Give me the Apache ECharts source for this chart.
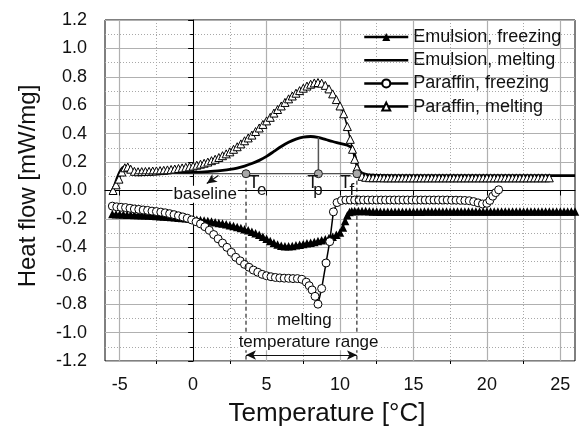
<!DOCTYPE html>
<html><head><meta charset="utf-8">
<script src="https://cdn.jsdelivr.net/npm/echarts@6/dist/echarts.min.js"></script>
<style>html,body{margin:0;padding:0;background:#fff}#c{width:582px;height:432px}</style>
</head><body><div id="c"></div><script>
const FONT = '"Liberation Sans", Arial, sans-serif';
const xTicks = [-5, 0, 5, 10, 15, 20, 25];
const xMinorTicks = [-2.5, 2.5, 7.5, 12.5, 17.5, 22.5];
const legendNames = ['Emulsion, freezing', 'Emulsion, melting', 'Paraffin, freezing', 'Paraffin, melting'];

const emulsionFreezing = [
[-5.5,-0.165],[-5.25,-0.167],[-5.0,-0.168],[-4.75,-0.169],[-4.5,-0.170],[-4.25,-0.171],[-4.0,-0.172],[-3.75,-0.173],
[-3.5,-0.174],[-3.25,-0.175],[-3.0,-0.176],[-2.75,-0.177],[-2.5,-0.179],[-2.25,-0.181],[-2.0,-0.183],[-1.75,-0.185],
[-1.5,-0.187],[-1.25,-0.189],[-1.0,-0.191],[-0.75,-0.193],[-0.5,-0.196],[-0.25,-0.199],[0,-0.202],[0.25,-0.205],
[0.5,-0.208],[0.75,-0.211],[1.0,-0.215],[1.25,-0.219],[1.5,-0.223],[1.75,-0.228],[2.0,-0.233],[2.25,-0.238],
[2.5,-0.244],[2.75,-0.250],[3.0,-0.257],[3.25,-0.264],[3.5,-0.272],[3.75,-0.280],[4.0,-0.290],[4.25,-0.300],
[4.5,-0.312],[4.75,-0.326],[5.0,-0.340],[5.25,-0.355],[5.5,-0.368],[5.75,-0.380],[6.0,-0.388],[6.25,-0.392],
[6.5,-0.392],[6.75,-0.390],[7.0,-0.386],[7.25,-0.382],[7.5,-0.377],[7.75,-0.372],[8.0,-0.367],[8.25,-0.362],
[8.5,-0.356],[8.75,-0.350],[9.0,-0.343],[9.25,-0.335],[9.5,-0.325],[9.75,-0.312],[10.0,-0.295],[10.2,-0.260],
[10.35,-0.215],[10.5,-0.175],[10.65,-0.152],[10.8,-0.146],
[11.0,-0.145],[11.25,-0.145],[11.5,-0.145],[11.75,-0.145],[12.0,-0.146],[12.25,-0.147],[12.5,-0.148],[12.75,-0.149],
[13.0,-0.150],[13.25,-0.150],[13.5,-0.150],[13.75,-0.150],[14.0,-0.150],[14.25,-0.150],[14.5,-0.150],[14.75,-0.150],
[15.0,-0.150],[15.25,-0.149],[15.5,-0.149],[15.75,-0.148],[16.0,-0.148],[16.25,-0.147],[16.5,-0.147],[16.75,-0.147],
[17.0,-0.147],[17.25,-0.147],[17.5,-0.147],[17.75,-0.147],[18.0,-0.147],[18.25,-0.147],[18.5,-0.147],[18.75,-0.147],
[19.0,-0.147],[19.25,-0.147],[19.5,-0.147],[19.75,-0.147],[20.0,-0.147],[20.25,-0.147],[20.5,-0.147],[20.75,-0.147],
[21.0,-0.147],[21.25,-0.147],[21.5,-0.147],[21.75,-0.147],[22.0,-0.147],[22.25,-0.147],[22.5,-0.147],[22.75,-0.147],
[23.0,-0.147],[23.25,-0.147],[23.5,-0.147],[23.75,-0.147],[24.0,-0.147],[24.25,-0.147],[24.5,-0.147],[24.75,-0.147],
[25.0,-0.147],[25.25,-0.147],[25.5,-0.147],[25.75,-0.147],[26.0,-0.147]
];

const emulsionMelting = [
[-5.4,0.02],[-5.2,0.08],[-5.0,0.13],[-4.8,0.16],[-4.6,0.17],[-4.4,0.16],[-4.2,0.14],[-4.0,0.13],[-3.5,0.127],
[-3.0,0.125],[-2.0,0.125],[-1.0,0.126],[0.0,0.128],[1.0,0.133],[2.0,0.142],[2.5,0.148],[3.0,0.158],[3.5,0.172],
[4.0,0.19],[4.5,0.212],[5.0,0.24],[5.5,0.275],[6.0,0.31],[6.5,0.34],[7.0,0.362],[7.5,0.376],[8.0,0.38],[8.5,0.374],
[9.0,0.36],[9.5,0.345],[10.0,0.332],[10.5,0.318],[10.8,0.30],[11.0,0.25],[11.2,0.17],[11.4,0.13],[11.7,0.115],
[12.2,0.108],[14.0,0.105],[18.0,0.104],[22.0,0.104],[26.0,0.105]
];

const paraffinFreezing = [
[-5.5,-0.110],[-5.2,-0.115],[-4.9,-0.118],[-4.6,-0.120],[-4.3,-0.125],[-4.0,-0.130],[-3.7,-0.133],[-3.4,-0.137],
[-3.1,-0.140],[-2.8,-0.145],[-2.5,-0.148],[-2.2,-0.152],[-1.9,-0.157],[-1.6,-0.163],[-1.3,-0.170],[-1.0,-0.178],
[-0.7,-0.186],[-0.4,-0.195],[-0.1,-0.207],[0.2,-0.220],[0.5,-0.235],[0.8,-0.255],[1.1,-0.280],[1.4,-0.310],
[1.7,-0.340],[2.0,-0.370],[2.3,-0.400],[2.6,-0.435],[2.9,-0.470],[3.2,-0.495],[3.5,-0.520],[3.8,-0.540],
[4.1,-0.560],[4.4,-0.575],[4.7,-0.590],[5.0,-0.600],[5.3,-0.607],[5.6,-0.612],[5.9,-0.615],[6.2,-0.617],
[6.5,-0.618],[6.8,-0.620],[7.1,-0.620],[7.4,-0.625],[7.7,-0.645],[7.9,-0.670],[8.1,-0.700],[8.3,-0.745],
[8.5,-0.800],[8.75,-0.690],[9.05,-0.510],[9.3,-0.360],[9.55,-0.150],[9.8,-0.085],[10.1,-0.070],
[10.4,-0.067],[10.7,-0.067],[11.0,-0.067],[11.3,-0.067],[11.6,-0.067],[11.9,-0.067],[12.2,-0.067],[12.5,-0.067],
[12.8,-0.067],[13.1,-0.067],[13.4,-0.067],[13.7,-0.067],[14.0,-0.067],[14.3,-0.067],[14.6,-0.067],[14.9,-0.067],
[15.2,-0.067],[15.5,-0.067],[15.8,-0.067],[16.1,-0.067],[16.4,-0.067],[16.7,-0.067],[17.0,-0.067],[17.3,-0.067],
[17.6,-0.068],[17.9,-0.068],[18.2,-0.069],[18.5,-0.070],[18.8,-0.072],[19.1,-0.078],[19.4,-0.087],[19.7,-0.095],
[20.0,-0.090],[20.2,-0.070],[20.4,-0.040],[20.6,-0.015],[20.8,0.005]
];

const paraffinMelting = [
[-5.45,0.0],[-5.25,0.04],[-5.05,0.08],[-4.85,0.13],[-4.65,0.16],[-4.45,0.165],[-4.25,0.15],[-4.0,0.135],
[-3.75,0.132],[-3.5,0.133],[-3.25,0.134],[-3.0,0.135],[-2.75,0.137],[-2.5,0.138],[-2.25,0.140],[-2.0,0.142],
[-1.75,0.145],[-1.5,0.148],[-1.25,0.151],[-1.0,0.155],[-0.75,0.159],[-0.5,0.163],[-0.25,0.167],[0.0,0.172],
[0.25,0.178],[0.5,0.185],[0.75,0.192],[1.0,0.200],[1.25,0.210],[1.5,0.220],[1.75,0.232],[2.0,0.245],
[2.25,0.258],[2.5,0.272],[2.75,0.290],[3.0,0.308],[3.25,0.328],[3.5,0.350],[3.75,0.370],[4.0,0.390],
[4.25,0.415],[4.5,0.440],[4.75,0.465],[5.0,0.490],[5.25,0.515],[5.5,0.545],[5.75,0.570],[6.0,0.595],
[6.25,0.620],[6.5,0.645],[6.75,0.665],[7.0,0.685],[7.25,0.703],[7.5,0.720],[7.75,0.735],[8.0,0.748],
[8.25,0.757],[8.5,0.760],[8.75,0.755],[9.0,0.740],[9.25,0.715],[9.5,0.680],[9.75,0.640],[10.0,0.595],
[10.25,0.540],[10.5,0.450],[10.7,0.360],[10.85,0.290],[11.0,0.220],[11.15,0.160],[11.3,0.120],[11.5,0.100],
[11.75,0.093],[12.0,0.090],[12.25,0.090],[12.5,0.090],[12.75,0.090],[13.0,0.089],[13.25,0.089],[13.5,0.089],
[13.75,0.089],[14.0,0.089],[14.25,0.089],[14.5,0.089],[14.75,0.089],[15.0,0.089],[15.25,0.089],[15.5,0.089],
[15.75,0.089],[16.0,0.089],[16.25,0.089],[16.5,0.089],[16.75,0.089],[17.0,0.089],[17.25,0.089],[17.5,0.089],
[17.75,0.089],[18.0,0.089],[18.25,0.089],[18.5,0.089],[18.75,0.089],[19.0,0.089],[19.25,0.089],[19.5,0.089],
[19.75,0.089],[20.0,0.089],[20.25,0.089],[20.5,0.089],[20.75,0.089],[21.0,0.089],[21.25,0.089],[21.5,0.089],
[21.75,0.089],[22.0,0.089],[22.25,0.089],[22.5,0.089],[22.75,0.089],[23.0,0.089],[23.25,0.089],[23.5,0.089],
[23.75,0.089],[24.0,0.089],[24.25,0.089]
];

// characteristic temperatures
const Te = 3.6, Tp = 8.53, Tf = 11.15;
const baselineLevel = 0.118;
const baselineStart = -4.0;
const peakAtTp = 0.375;
const rangeBottom = -1.19;
const arrowLevel = -1.158;

const chart = echarts.init(document.getElementById('c'), null, {renderer: 'canvas'});

const txt = (name, x, y, size, bg) => ({name, value: [x, y], label: {fontSize: size, backgroundColor: bg ? '#fff' : 'transparent'}});

const option = {
  animation: false,
  textStyle: {fontFamily: FONT},
  grid: {left: 105, right: 7, top: 20, bottom: 66, show: true, borderColor: '#000', borderWidth: 1, backgroundColor: 'transparent'},
  legend: {
    data: [
      {name: legendNames[0]},
      {name: legendNames[1], itemStyle: {color: 'rgba(0,0,0,0)', borderWidth: 0, opacity: 0}},
      {name: legendNames[2]},
      {name: legendNames[3]}
    ],
    orient: 'vertical', left: 358, top: 22,
    itemWidth: 44, itemHeight: 10, itemGap: 3.2,
    lineStyle: {width: 2.5},
    textStyle: {fontFamily: FONT, fontSize: 18, color: '#111', lineHeight: 20},
    inactiveColor: '#222', selectedMode: false
  },
  xAxis: [{
    type: 'value', min: -6, max: 26,
    axisLine: {show: true, lineStyle: {color: '#000', width: 1}},
    axisTick: {show: true, customValues: xTicks, length: 5, lineStyle: {color: '#000'}},
    axisLabel: {customValues: xTicks, fontSize: 18, color: '#111', margin: 15, fontFamily: FONT},
    splitLine: {show: true, lineStyle: {color: '#b0b0b0', width: 1.2}},
    name: 'Temperature [°C]', nameLocation: 'middle', nameGap: 40,
    nameTextStyle: {fontSize: 26, color: '#111', fontFamily: FONT, padding: [0, 26, 0, 0]}
  }, {
    type: 'value', min: -6, max: 26, position: 'bottom',
    axisLine: {show: false},
    axisTick: {show: true, customValues: xMinorTicks, length: 3, lineStyle: {color: '#000'}},
    axisLabel: {show: false, customValues: xMinorTicks},
    splitLine: {show: true, lineStyle: {color: '#a8a8a8', width: 1, type: [1, 2]}}
  }],
  yAxis: {
    type: 'value', min: -1.2, max: 1.2, interval: 0.2,
    axisLine: {show: true, lineStyle: {color: '#000', width: 1}},
    axisTick: {show: true, length: 5, lineStyle: {color: '#000'}},
    minorTick: {show: true, splitNumber: 2, length: 3, lineStyle: {color: '#000'}},
    axisLabel: {fontSize: 18, color: '#111', margin: 18, fontFamily: FONT,
      formatter: v => Math.abs(v) < 1e-9 ? '0.0' : v.toFixed(1)},
    splitLine: {show: true, lineStyle: {color: '#b0b0b0', width: 1.2}},
    minorSplitLine: {show: true, lineStyle: {color: '#a8a8a8', width: 1, type: [1, 2]}},
    name: 'Heat flow [mW/mg]', nameLocation: 'middle', nameGap: 65,
    nameTextStyle: {fontSize: 24, color: '#111', fontFamily: FONT, padding: [0, 0, 0, 9]}
  },
  series: [
    {
      name: 'Emulsion, melting', type: 'line', data: emulsionMelting, symbol: 'none', smooth: 0.3,
      lineStyle: {color: '#000', width: 2.8}, itemStyle: {color: '#000'}, z: 2
    },
    {
      name: 'Emulsion, freezing', type: 'line', data: emulsionFreezing, symbol: 'triangle', symbolSize: 8.5,
      showAllSymbol: true, lineStyle: {color: '#000', width: 1.5}, itemStyle: {color: '#000'}, z: 3
    },
    {
      name: 'Paraffin, freezing', type: 'line', data: paraffinFreezing, symbol: 'circle', symbolSize: 8,
      showAllSymbol: true, lineStyle: {color: '#000', width: 1.5},
      itemStyle: {color: '#fff', borderColor: '#000', borderWidth: 1}, z: 4
    },
    {
      name: 'Paraffin, melting', type: 'line', data: paraffinMelting, symbol: 'triangle', symbolSize: 8,
      showAllSymbol: true, lineStyle: {color: '#000', width: 1.5},
      itemStyle: {color: '#fff', borderColor: '#000', borderWidth: 1}, z: 5
    },
    {
      name: 'baseline', type: 'line', data: [[baselineStart, baselineLevel], [Tf, baselineLevel]], symbol: 'none',
      lineStyle: {color: '#222', width: 1}, z: 6, silent: true,
      markLine: {
        silent: true, animation: false, label: {show: false},
        lineStyle: {color: '#111', width: 1.2, type: 'solid'}, symbolSize: [7, 10],
        data: [
          [{coord: [Te, arrowLevel], symbol: 'arrow'}, {coord: [Tf, arrowLevel], symbol: 'arrow'}],
          [{coord: [1.72, 0.106], symbol: 'none'}, {coord: [0.93, 0.049], symbol: 'arrow'}]
        ]
      }
    },
    {
      name: 'tp-line', type: 'line', data: [[Tp, baselineLevel], [Tp, peakAtTp]], symbol: 'none',
      lineStyle: {color: '#555', width: 1.5}, z: 6, silent: true
    },
    {
      name: 'te-line', type: 'line', data: [[Te, baselineLevel], [Te, rangeBottom]], symbol: 'none',
      lineStyle: {color: '#000', width: 1, type: [4, 3]}, z: 6, silent: true
    },
    {
      name: 'tf-line', type: 'line', data: [[Tf, baselineLevel], [Tf, rangeBottom]], symbol: 'none',
      lineStyle: {color: '#000', width: 1, type: [4, 3]}, z: 6, silent: true
    },
    {
      name: 'char-points', type: 'scatter', data: [[Te, baselineLevel], [Tp, baselineLevel], [Tf, baselineLevel]],
      symbol: 'circle', symbolSize: 8, itemStyle: {color: '#a8a8a8', borderColor: '#222', borderWidth: 1, opacity: 1}, z: 8, silent: true
    },
    {
      name: 'texts', type: 'scatter', symbolSize: 1, itemStyle: {color: 'rgba(0,0,0,0)', opacity: 1}, z: 9, silent: true,
      label: {show: true, position: 'inside', formatter: p => p.name, color: '#111', fontFamily: FONT, padding: [0, 1],
        textBorderWidth: 0, opacity: 1},
      data: [
        txt('baseline', 0.82, -0.026, 17, true),
        txt('T', 4.15, 0.05, 18, false),
        txt('e', 4.67, 0.0, 17, false),
        txt('T', 8.15, 0.05, 18, false),
        txt('p', 8.5, 0.0, 17, false),
        txt('T', 10.37, 0.05, 18, false),
        txt('f', 10.8, 0.0, 17, false),
        txt('melting', 7.57, -0.912, 17, true),
        txt('temperature range', 7.86, -1.065, 17, true)
      ]
    }
  ]
};
chart.setOption(option);
</script></body></html>
